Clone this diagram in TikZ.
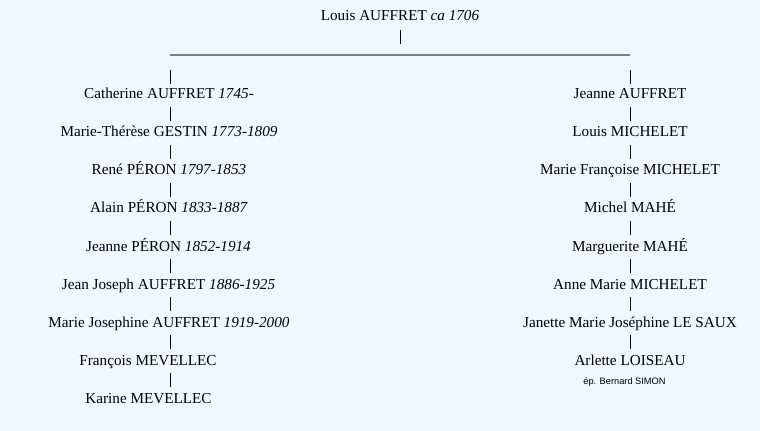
\documentclass[tikz,border=0pt]{standalone}
\usepackage{fontspec}
\setmainfont{Liberation Serif}
\newfontfamily\smallsans{Liberation Sans}
\definecolor{bgcol}{HTML}{F0F8FF}
\definecolor{rulecol}{HTML}{808080}
\begin{document}
\begin{tikzpicture}[x=0.75pt,y=-0.75pt,
  person/.style={inner sep=0pt, text height=7.5pt, text depth=0pt, anchor=base,
    font=\fontsize{11.4}{13}\selectfont},
  bar/.style={line width=0.75pt, draw=black, shorten <=6pt, shorten >=4.5pt},
  hrule/.style={line width=1pt, draw=rulecol},
  note/.style={inner sep=0pt, anchor=base, font=\smallsans\fontsize{6.95}{8}\selectfont}]
\fill[bgcol] (0,0) rectangle (760,431);
\useasboundingbox (0,0) rectangle (760,431);
% root
\node[person] (root) at (400,21) {Louis AUFFRET \textit{ca 1706}};
\coordinate (top) at (400,55);
\coordinate (hl) at (170,55);
\coordinate (hr) at (630,55);
\draw[line width=0.75pt, shorten <=6.75pt, shorten >=8.25pt] (root) -- (top);
\draw[hrule] (hl) -- (hr);
% left column
\node[person] (l0) at (169,99) {Catherine AUFFRET \textit{1745-}};
\node[person] (l1) at (169,137) {Marie-Thérèse GESTIN \textit{1773-1809}};
\node[person] (l2) at (169,175) {René PÉRON \textit{1797-1853}};
\node[person] (l3) at (169,213) {Alain PÉRON \textit{1833-1887}};
\node[person] (l4) at (168.5,251) {Jeanne PÉRON \textit{1852-1914}};
\node[person] (l5) at (168.5,289) {Jean Joseph AUFFRET \textit{1886-1925}};
\node[person] (l6) at (169,327) {Marie Josephine AUFFRET \textit{1919-2000}};
\node[person] (l7) at (148,365) {François MEVELLEC};
\node[person] (l8) at (148.5,403) {Karine MEVELLEC};
% right column
\node[person] (r0) at (630,99) {Jeanne AUFFRET};
\node[person] (r1) at (630,137) {Louis MICHELET};
\node[person] (r2) at (630,175) {Marie Françoise MICHELET};
\node[person] (r3) at (630,213) {Michel MAHÉ};
\node[person] (r4) at (630,251) {Marguerite MAHÉ};
\node[person] (r5) at (630,289) {Anne Marie MICHELET};
\node[person] (r6) at (630,327) {Janette Marie Joséphine LE SAUX};
\node[person] (r7) at (630,365) {Arlette LOISEAU};
\node[note] (r7n) at (624.5,384) {ép. Bernard SIMON};
% connectors from rule
\draw[line width=0.75pt, shorten <=11.25pt, shorten >=3.75pt] (hl) -- (hl |- l0.north);
\draw[line width=0.75pt, shorten <=11.25pt, shorten >=3.75pt] (hr) -- (r0);
\foreach \a/\b in {l0/l1,l1/l2,l2/l3,l3/l4,l4/l5,l5/l6}
  \draw[bar] (hl |- \a.south) -- (hl |- \b.north);
\draw[bar] (hl |- l6.south) -- (hl |- l7.north);
\draw[bar] (hl |- l7.south) -- (hl |- l8.north);
\foreach \a/\b in {r0/r1,r1/r2,r2/r3,r3/r4,r4/r5,r5/r6,r6/r7}
  \draw[bar] (\a) -- (\b);
\end{tikzpicture}
\end{document}
